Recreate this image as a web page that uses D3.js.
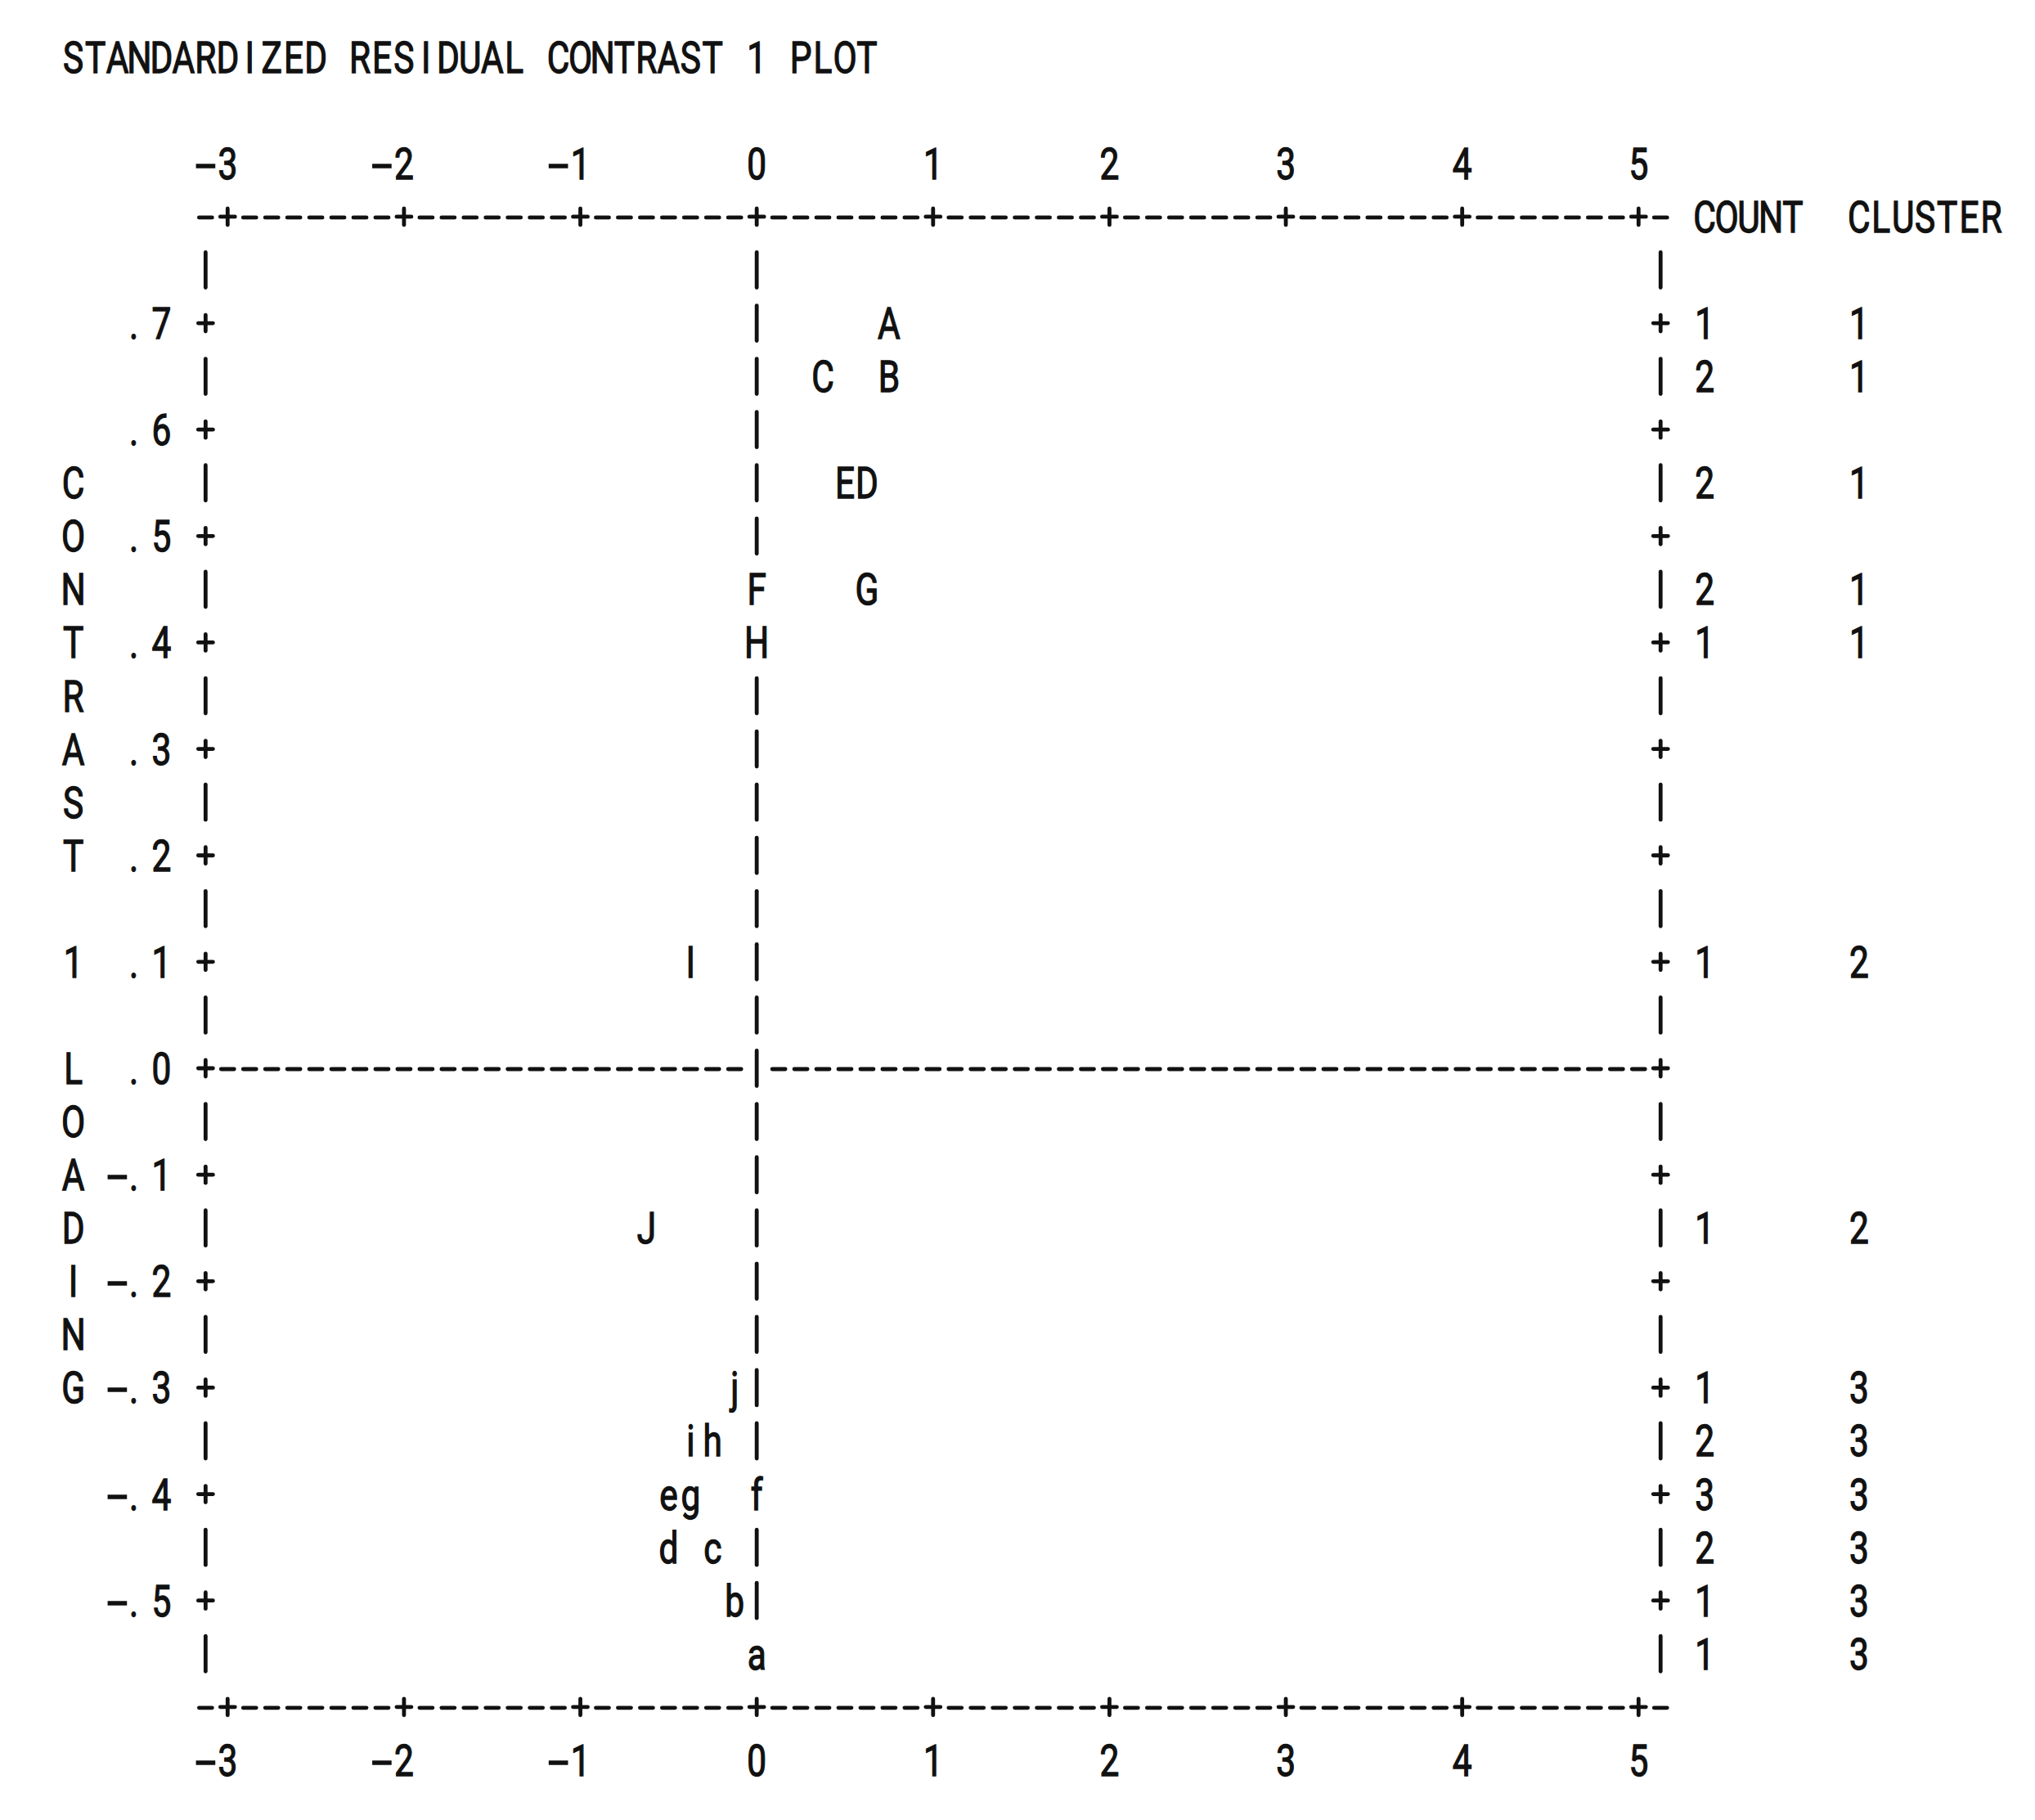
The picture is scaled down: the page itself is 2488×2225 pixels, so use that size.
<!DOCTYPE html>
<html>
<head>
<meta charset="utf-8">
<script src="https://cdn.jsdelivr.net/npm/d3@7.9.0/dist/d3.min.js"></script>
<style>
  html, body { margin: 0; padding: 0; background: #fff; }
  svg { display: block; }
  .ch { font-family: Roboto, "DejaVu Sans", sans-serif; font-size: 53px; fill: #111; stroke: #111; stroke-width: 1.3; }
  .rule { stroke: #111; stroke-width: 4.8; stroke-linecap: round; fill: none; }
</style>
</head>
<body>
<svg id="chart" width="2488" height="2225"></svg>
<script>
const title = "STANDARDIZED RESIDUAL CONTRAST 1 PLOT";
const yTitle = "CONTRAST 1 LOADING";

const xTicks = [-3, -2, -1, 0, 1, 2, 3, 4, 5];
const xTickLabels = ["-3", "-2", "-1", "0", "1", "2", "3", "4", "5"];
const yTicks = [0.7, 0.6, 0.5, 0.4, 0.3, 0.2, 0.1, 0.0, -0.1, -0.2, -0.3, -0.4, -0.5];
const yTickLabels = [".7", ".6", ".5", ".4", ".3", ".2", ".1", ".0", "-.1", "-.2", "-.3", "-.4", "-.5"];

// items as printed: letter, measure (x), contrast loading (y)
const itemLabels   = ["A", "C", "B", "E", "D", "F", "G", "H", "I", "J", "j", "i", "h", "e", "g", "f", "d", "c", "b", "a"];
const itemMeasures = [0.75, 0.375, 0.75, 0.5, 0.625, 0, 0.625, 0, -0.375, -0.625, -0.125, -0.375, -0.25, -0.5, -0.375, 0, -0.5, -0.25, -0.125, 0];
const itemLoadings = [0.70, 0.65, 0.65, 0.55, 0.55, 0.45, 0.45, 0.40, 0.10, -0.15, -0.30, -0.35, -0.35, -0.40, -0.40, -0.40, -0.45, -0.45, -0.50, -0.55];

// right-hand columns
const rowLoadings = [0.70, 0.65, 0.55, 0.45, 0.40, 0.10, -0.15, -0.30, -0.35, -0.40, -0.45, -0.50, -0.55];
const rowCounts   = [1, 2, 2, 2, 1, 1, 1, 1, 2, 3, 2, 1, 1];
const rowClusters = [1, 1, 1, 1, 1, 2, 2, 3, 3, 3, 3, 3, 3];

const x = d3.scaleLinear().domain([-3, 5]).range([278.3, 2003.3]);
const y = d3.scaleLinear().domain([0.95, -0.65]).range([69.7, 2151.9]);

const cw = x(0.125) - x(0);          // one printer column = 1/8 unit
const rowH = y(0) - y(0.05);         // one printer line = .05 loading
const xLeft = x(-3) - cw;
const xRight = x(5) + cw;

const svg = d3.select("#chart");
const g = svg.append("g");

function putChars(str, x0, cy) {
  // fixed pitch: every character gets its own cell
  [...str].forEach((c, i) => {
    if (c === " ") return;
    const dx = c === "." ? -7 : 0;
    const sx = c === "-" ? 1.7 : 0.8;   // the printer minus is a long bar
    g.append("text")
      .attr("class", "ch")
      .attr("text-anchor", "middle")
      .attr("transform", `translate(${x0 + i * cw + dx},${cy + 19}) scale(${sx},1)`)
      .text(c);
  });
}
function plus(cx, cy) {
  g.append("line").attr("class", "rule").attr("x1", cx - 9).attr("x2", cx + 9).attr("y1", cy).attr("y2", cy);
  g.append("line").attr("class", "rule").attr("x1", cx).attr("x2", cx).attr("y1", cy - 10).attr("y2", cy + 10);
}
function dash(cx, cy) {
  g.append("line").attr("class", "rule").attr("x1", cx - 8).attr("x2", cx + 8).attr("y1", cy + 1).attr("y2", cy + 1);
}
function bar(cx, cy) {
  g.append("line").attr("class", "rule").attr("x1", cx).attr("x2", cx).attr("y1", cy - 21.5).attr("y2", cy + 21.5);
}

// title
putChars(title, xLeft - 6 * cw, y(0.95));

// x axis labels, top and bottom (right aligned on the tick)
xTicks.forEach((t, i) => {
  const lab = xTickLabels[i];
  putChars(lab, x(t) - (lab.length - 1) * cw, y(0.85));
  putChars(lab, x(t) - (lab.length - 1) * cw, y(-0.65));
});

// axis rules top and bottom
const tickCols = xTicks.map(t => Math.round((x(t) - x(-3)) / cw));
d3.range(-1, 66).forEach(c => {
  const cx = x(-3) + c * cw;
  [0.8, -0.6].forEach(v => {
    if (tickCols.includes(c)) plus(cx, y(v));
    else dash(cx, y(v));
  });
});

putChars("COUNT", xRight + 2 * cw, y(0.8));
putChars("CLUSTER", xRight + 9 * cw, y(0.8));

// y tick labels
yTicks.forEach((v, i) => {
  const lab = yTickLabels[i];
  putChars(lab, xLeft - (lab.length + 1) * cw, y(v));
});

// vertical axis title, one letter per line
[...yTitle].forEach((c, i) => putChars(c, xLeft - 6 * cw, y(0.55) + i * rowH));

// plot frame, zero column and zero line
const zeroCol = Math.round((x(0) - x(-3)) / cw);
d3.range(15, -12, -1).forEach(k => {
  const cy = y(k * 0.05);
  const edge = k % 2 === 0 ? plus : bar;
  edge(xLeft, cy);
  edge(xRight, cy);
  const taken = itemLabels.some((_, i) => itemMeasures[i] === 0 && Math.round(itemLoadings[i] * 20) === k);
  if (!taken) bar(x(0), cy);
  if (k === 0) {
    d3.range(0, 65).forEach(c => { if (c !== zeroCol) dash(x(-3) + c * cw, cy); });
  }
});

// items
itemLabels.forEach((lab, i) => putChars(lab, x(itemMeasures[i]), y(itemLoadings[i])));

// count and cluster columns
rowLoadings.forEach((v, i) => {
  putChars(String(rowCounts[i]), xRight + 2 * cw, y(v));
  putChars(String(rowClusters[i]), xRight + 9 * cw, y(v));
});
</script>
</body>
</html>
